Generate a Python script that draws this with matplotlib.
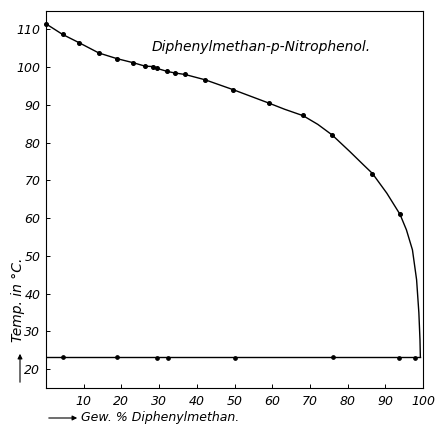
import matplotlib
matplotlib.use("Agg")
import matplotlib.pyplot as plt

# Liquidus (measured points)
liq_x = [0, 4.4, 8.8, 14.0, 18.8, 23.2, 26.3, 28.5, 29.5, 32.2, 34.2, 36.9, 42.2,
         49.6, 59.2, 68.2, 75.9, 86.6, 93.9]
liq_t = [111.4, 108.6, 106.4, 103.7, 102.2, 101.1, 100.2, 100.1, 99.6, 98.8, 98.4, 98.0, 96.6,
         94.0, 90.4, 87.3, 82.0, 71.8, 61.0]
# Curve trace for the right-hand part
trace_x = [63.3, 68.2, 72.1, 75.9, 80.6, 84.2, 86.6, 90.4, 93.9, 95.6, 97.2, 98.3, 98.9, 99.2, 99.3]
trace_t = [88.8, 87.1, 84.8, 82.0, 77.6, 74.1, 71.8, 66.6, 61.0, 56.9, 51.6, 43.7, 35.0, 27.8, 23.2]

# Eutectic (measured points)
eut_x = [4.6, 18.9, 29.5, 32.3, 50.0, 76.1, 93.7, 98.0]
eut_t = [23.2, 23.2, 23.1, 23.1, 23.1, 23.2, 23.1, 23.1]
eut_line_x = [0, 99.3]
eut_line_t = [23.2, 23.2]

x_ticks = [10, 20, 30, 40, 50, 60, 70, 80, 90, 100]
y_ticks = [20, 30, 40, 50, 60, 70, 80, 90, 100, 110]

title = "Diphenylmethan-p-Nitrophenol."
xlabel = "Gew. % Diphenylmethan."
ylabel = "Temp. in °C."

fig = plt.figure(figsize=(4.36, 4.29), dpi=100)
ax = fig.add_axes([46/436, 1-388/429, 377/436, 377/429])

line_x = [x for x in liq_x if x < trace_x[0]] + trace_x
line_t = [t for x, t in zip(liq_x, liq_t) if x < trace_x[0]] + trace_t
ax.plot(line_x, line_t, color="black", lw=1.0, clip_on=False)
ax.plot(liq_x, liq_t, "o", color="black", ms=2.6, clip_on=False)
ax.plot(eut_line_x, eut_line_t, color="black", lw=1.0)
ax.plot(eut_x, eut_t, "o", color="black", ms=2.4)

ax.set_xlim(0, 100)
ax.set_ylim(15.05, 114.8)
ax.set_xticks(x_ticks)
ax.set_yticks(y_ticks)
ax.set_xticklabels([str(v) for v in x_ticks], fontstyle="italic", fontsize=9)
ax.set_yticklabels([str(v) for v in y_ticks], fontstyle="italic", fontsize=9)
ax.tick_params(direction="in", length=3, width=0.7, pad=4)
ax.tick_params(axis="x", pad=5)
for s in ax.spines.values():
    s.set_linewidth(0.8)

ax.text(0.57, 0.905, title, transform=ax.transAxes, ha="center", va="center",
        fontstyle="italic", fontsize=10)

fig.text(81/436, 1-417/429, xlabel, ha="left", va="center", fontstyle="italic", fontsize=9)
fig.text(18/436, 1-300/429, ylabel, ha="center", va="center", rotation=90,
         fontstyle="italic", fontsize=10)

fig.patches.append(matplotlib.patches.FancyArrowPatch(
    (46/436, 1-418/429), (80/436, 1-418/429), transform=fig.transFigure,
    arrowstyle="-|>", mutation_scale=7, lw=0.8, color="black"))
fig.patches.append(matplotlib.patches.FancyArrowPatch(
    (20/436, 1-385/429), (20/436, 1-351/429), transform=fig.transFigure,
    arrowstyle="-|>", mutation_scale=7, lw=0.8, color="black"))

fig.savefig("out.png", dpi=100)
